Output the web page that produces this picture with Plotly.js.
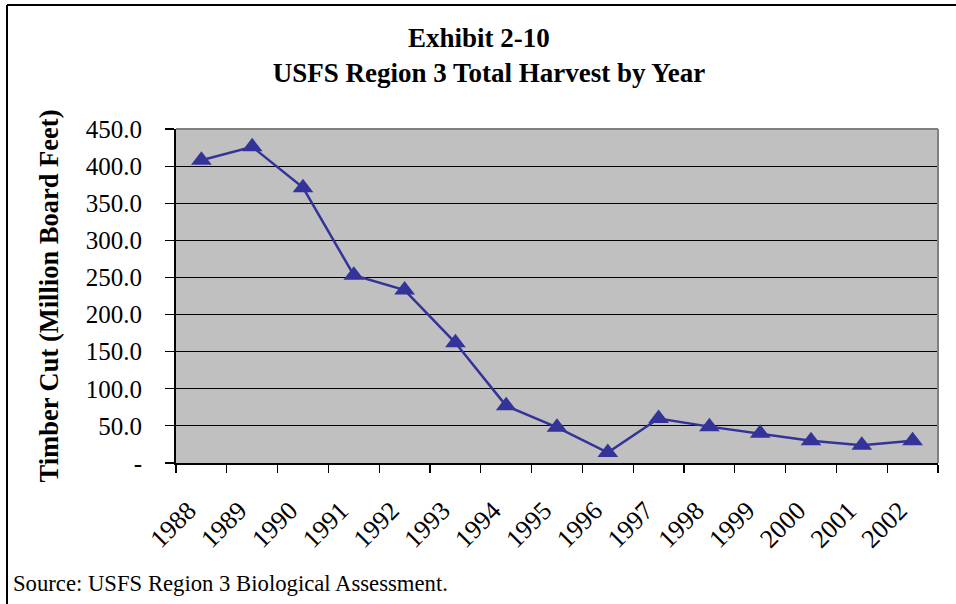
<!DOCTYPE html>
<html>
<head>
<meta charset="utf-8">
<script src="https://cdn.plot.ly/plotly-3.0.1.min.js"></script>
<style>
html,body{margin:0;padding:0;background:#fff;}
#chart{width:956px;height:604px;}
</style>
</head>
<body>
<div id="chart"></div>
<script>
const years = ["1988","1989","1990","1991","1992","1993","1994","1995","1996","1997","1998","1999","2000","2001","2002"];
const harvest = [408, 426, 371, 253, 233, 162, 77, 48, 14, 60, 49, 40, 30, 24, 30];
const yTickVals = [0, 50, 100, 150, 200, 250, 300, 350, 400, 450];
const yTickText = ["-", "50.0", "100.0", "150.0", "200.0", "250.0", "300.0", "350.0", "400.0", "450.0"];

const W = 956, H = 604;
const M = {l: 176, r: 18, t: 129, b: 141};
const PW = W - M.l - M.r, PH = H - M.t - M.b;
const px = v => (v - M.l) / PW;
const py = v => (H - M.b - v) / PH;
const serif = '"Times New Roman", "Liberation Serif", serif';

const trace = {
  x: years, y: harvest, type: 'scatter', mode: 'lines+markers',
  line: {color: '#333399', width: 2.5},
  marker: {symbol: 'triangle-up', size: 18, color: '#333399'},
  hoverinfo: 'x+y'
};

const layout = {
  width: W, height: H,
  margin: M,
  paper_bgcolor: '#ffffff',
  plot_bgcolor: '#c0c0c0',
  showlegend: false,
  font: {family: serif, color: '#000', size: 23},
  title: {
    text: '<b>Exhibit 2-10\u00A0\u00A0\u00A0</b><br><b>USFS Region 3 Total Harvest by Year</b>',
    font: {family: serif, size: 27, color: '#000'},
    x: 489 / W, xref: 'container', xanchor: 'center',
    y: 1 - 47 / H, yref: 'container', yanchor: 'top'
  },
  xaxis: {
    type: 'category',
    tickson: 'boundaries',
    ticks: 'outside', ticklen: 8, tickcolor: '#000', tickwidth: 1.2,
    showgrid: false,
    showline: true, linecolor: '#000', linewidth: 2,
    tickangle: -45,
    ticklabelstandoff: 20,
    ticklabelshift: -13,
    tickfont: {family: serif, size: 26, color: '#000'},
    range: [-0.5, years.length - 0.5],
    zeroline: false, fixedrange: true
  },
  yaxis: {
    range: [0, 450],
    tickvals: yTickVals, ticktext: yTickText,
    ticks: 'outside', ticklen: 9, tickcolor: '#000', tickwidth: 1.2,
    showgrid: true, gridcolor: '#000', gridwidth: 1,
    showline: true, linecolor: '#000', linewidth: 2,
    zeroline: false,
    ticklabelstandoff: 18,
    tickfont: {family: serif, size: 25, color: '#000'},
    title: {
      text: '<b>Timber Cut (Million Board Feet)</b>',
      font: {family: serif, size: 26.5, color: '#000'},
      standoff: 19
    },
    fixedrange: true
  },
  shapes: [
    {type: 'line', xref: 'paper', yref: 'paper', x0: 0, x1: 1, y0: 1, y1: 1, line: {color: '#808080', width: 2}},
    {type: 'line', xref: 'paper', yref: 'paper', x0: 1, x1: 1, y0: 0, y1: 1, line: {color: '#808080', width: 2}},
    {type: 'line', xref: 'paper', yref: 'paper', x0: px(7), x1: px(7), y0: py(5), y1: py(H + 2), line: {color: '#000', width: 2}},
    {type: 'line', xref: 'paper', yref: 'paper', x0: px(7), x1: px(W + 2), y0: py(5), y1: py(5), line: {color: '#000', width: 2}}
  ],
  annotations: [
    {
      text: 'Source: USFS Region 3 Biological Assessment.',
      xref: 'paper', yref: 'paper',
      x: px(11), y: py(598), xanchor: 'left', yanchor: 'bottom',
      showarrow: false,
      font: {family: serif, size: 22.7, color: '#000'}
    }
  ]
};

Plotly.newPlot('chart', [trace], layout, {displayModeBar: false, staticPlot: true});
</script>
</body>
</html>
